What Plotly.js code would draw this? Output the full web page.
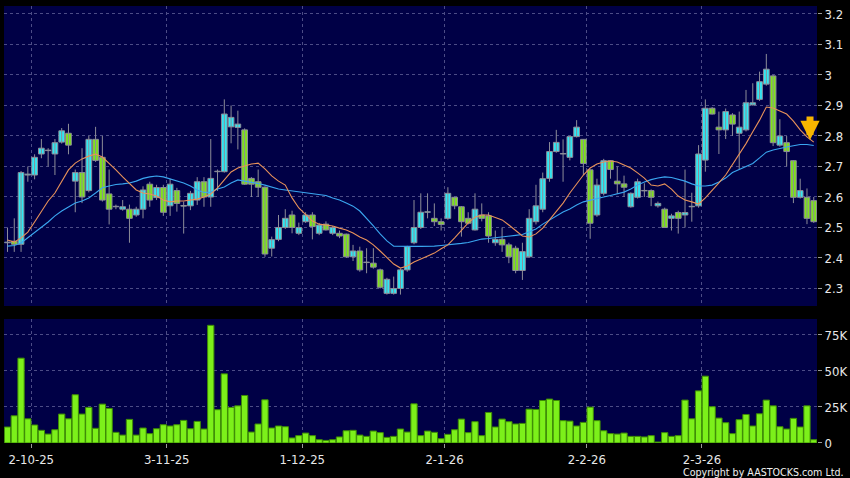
<!DOCTYPE html>
<html>
<head>
<meta charset="utf-8">
<script src="https://cdn.plot.ly/plotly-3.0.1.min.js"></script>
<style>
  html, body { margin: 0; padding: 0; background: #000000; }
  #chart { width: 850px; height: 478px; }
</style>
</head>
<body>
<div id="chart"></div>
<script>
// Trading days shown (one candle per day)
const dates = [
  '2025-09-25','2025-09-26','2025-09-29','2025-09-30',
  '2025-10-02','2025-10-03','2025-10-06','2025-10-08','2025-10-09','2025-10-10','2025-10-13','2025-10-14','2025-10-15','2025-10-16',
  '2025-10-17','2025-10-20','2025-10-21','2025-10-22','2025-10-23','2025-10-24','2025-10-27','2025-10-28','2025-10-30','2025-10-31',
  '2025-11-03','2025-11-04','2025-11-05','2025-11-06','2025-11-07','2025-11-10','2025-11-11','2025-11-12','2025-11-13','2025-11-14',
  '2025-11-17','2025-11-18','2025-11-19','2025-11-20','2025-11-21','2025-11-24','2025-11-25','2025-11-26','2025-11-27','2025-11-28',
  '2025-12-01','2025-12-02','2025-12-03','2025-12-04','2025-12-05','2025-12-08','2025-12-09','2025-12-10','2025-12-11','2025-12-12',
  '2025-12-15','2025-12-16','2025-12-17','2025-12-18','2025-12-19','2025-12-22','2025-12-23','2025-12-24','2025-12-29','2025-12-30','2025-12-31',
  '2026-01-02','2026-01-05','2026-01-06','2026-01-07','2026-01-08','2026-01-09','2026-01-12','2026-01-13','2026-01-14','2026-01-15',
  '2026-01-16','2026-01-19','2026-01-20','2026-01-21','2026-01-22','2026-01-23','2026-01-26','2026-01-27','2026-01-28','2026-01-29','2026-01-30',
  '2026-02-02','2026-02-03','2026-02-04','2026-02-05','2026-02-06','2026-02-09','2026-02-10','2026-02-11','2026-02-12','2026-02-13',
  '2026-02-16','2026-02-20','2026-02-23','2026-02-24','2026-02-25','2026-02-26','2026-02-27',
  '2026-03-02','2026-03-03','2026-03-04','2026-03-05','2026-03-06','2026-03-09','2026-03-10','2026-03-11','2026-03-12','2026-03-13',
  '2026-03-16','2026-03-17','2026-03-18','2026-03-19','2026-03-20','2026-03-23','2026-03-24'
];

const openPx = [2.45,2.455,2.445,2.672,2.672,2.741,2.752,2.741,2.78,2.809,
  2.652,2.68,2.621,2.789,2.73,2.61,2.568,2.56,2.56,2.541,
  2.56,2.642,2.598,2.631,2.571,2.621,2.572,2.571,2.59,2.65,
  2.60,2.683,2.683,2.83,2.828,2.82,2.661,2.65,2.632,2.432,
  2.461,2.50,2.541,2.481,2.519,2.541,2.481,2.511,2.481,2.481,
  2.478,2.404,2.423,2.385,2.383,2.361,2.284,2.284,2.30,2.361,
  2.45,2.50,2.55,2.53,2.519,2.53,2.599,2.568,2.53,2.492,
  2.541,2.538,2.45,2.461,2.443,2.432,2.359,2.404,2.519,2.56,
  2.661,2.749,2.741,2.73,2.798,2.789,2.689,2.541,2.612,2.719,
  2.652,2.643,2.568,2.599,2.62,2.621,2.571,2.56,2.53,2.549,
  2.541,2.568,2.571,2.721,2.891,2.829,2.82,2.869,2.809,2.82,
  2.902,2.92,2.97,2.997,2.77,2.778,2.719,2.599,2.599,2.588];

const highPx = [2.50,2.53,2.685,2.70,2.74,2.79,2.76,2.79,2.826,2.84,
  2.69,2.76,2.80,2.83,2.80,2.69,2.575,2.59,2.575,2.568,
  2.635,2.65,2.64,2.64,2.66,2.63,2.585,2.62,2.665,2.665,
  2.79,2.69,2.92,2.90,2.883,2.825,2.665,2.69,2.635,2.47,
  2.541,2.56,2.555,2.516,2.55,2.55,2.515,2.52,2.505,2.49,
  2.48,2.443,2.437,2.432,2.432,2.365,2.335,2.339,2.365,2.44,
  2.59,2.612,2.612,2.579,2.53,2.632,2.60,2.57,2.55,2.612,
  2.579,2.55,2.49,2.50,2.45,2.44,2.45,2.56,2.64,2.68,
  2.78,2.82,2.789,2.80,2.852,2.79,2.69,2.66,2.725,2.72,
  2.70,2.67,2.615,2.66,2.645,2.625,2.585,2.565,2.545,2.555,
  2.69,2.614,2.77,2.92,2.895,2.88,2.89,2.875,2.88,2.951,
  2.973,3.011,3.069,3.00,2.855,2.80,2.72,2.66,2.628,2.60];

const lowPx = [2.42,2.42,2.42,2.65,2.658,2.727,2.70,2.672,2.775,2.74,
  2.55,2.58,2.615,2.715,2.585,2.51,2.56,2.555,2.45,2.535,
  2.53,2.568,2.59,2.538,2.538,2.552,2.48,2.557,2.574,2.568,
  2.568,2.62,2.68,2.776,2.756,2.64,2.60,2.60,2.404,2.405,
  2.455,2.495,2.481,2.475,2.515,2.461,2.475,2.49,2.475,2.465,
  2.40,2.39,2.355,2.35,2.365,2.30,2.28,2.28,2.28,2.355,
  2.445,2.495,2.53,2.505,2.49,2.525,2.56,2.47,2.51,2.49,
  2.52,2.45,2.44,2.42,2.383,2.35,2.328,2.40,2.51,2.55,
  2.65,2.745,2.65,2.72,2.795,2.672,2.463,2.535,2.605,2.66,
  2.61,2.60,2.565,2.595,2.60,2.57,2.565,2.50,2.49,2.48,
  2.50,2.519,2.565,2.683,2.87,2.741,2.79,2.80,2.69,2.815,
  2.90,2.915,2.965,2.767,2.765,2.70,2.58,2.595,2.511,2.515];

const closePx = [2.452,2.445,2.68,2.675,2.73,2.76,2.752,2.778,2.817,2.77,
  2.68,2.60,2.789,2.72,2.59,2.56,2.568,2.568,2.53,2.56,
  2.623,2.59,2.631,2.55,2.642,2.579,2.570,2.612,2.65,2.60,
  2.661,2.683,2.872,2.861,2.839,2.642,2.642,2.632,2.413,2.46,
  2.50,2.53,2.50,2.50,2.541,2.503,2.508,2.492,2.50,2.472,
  2.404,2.423,2.361,2.385,2.37,2.304,2.33,2.30,2.361,2.437,
  2.50,2.55,2.55,2.519,2.51,2.612,2.571,2.519,2.514,2.56,
  2.53,2.472,2.461,2.443,2.404,2.359,2.421,2.53,2.571,2.66,
  2.749,2.779,2.741,2.798,2.829,2.71,2.514,2.639,2.719,2.69,
  2.643,2.632,2.612,2.65,2.62,2.599,2.579,2.50,2.538,2.53,
  2.549,2.568,2.741,2.891,2.872,2.82,2.88,2.839,2.829,2.909,
  2.909,2.978,3.019,2.778,2.80,2.749,2.599,2.621,2.53,2.519];

// Volume in thousands of shares
const volumeK = [11.1,18.9,58.9,16.8,12.5,8.8,6.2,9.2,20.1,16.8,
  33.5,20.1,24.7,10.2,27,24,7.4,5.5,16.4,5.5,
  10.4,6.5,9.9,12.7,11.8,12.7,15.7,9.9,15,9.7,
  81.7,23.1,48,24.7,25.8,33,7.6,13.2,30,10.4,
  11.8,11.3,3.5,5.1,6.9,5.1,2.3,1.8,2.3,4.2,
  8.5,8.8,5.5,4.6,8.3,7.2,3.9,4.6,9.7,7.6,
  27.2,5.1,8.3,7.4,3,6,9.2,16.6,7.2,14.8,
  5.1,21.2,11.1,16.6,14.8,13.2,13.6,23.5,23.3,29.5,
  30.5,29.5,15.5,15.2,11.8,14.3,24.9,15.5,8.5,6.5,
  6.2,6.9,4.6,4.6,4.2,5.1,0.7,7.2,4.6,5.1,
  29.8,16.8,36.2,46.4,25.2,17.3,14.1,6.5,16.2,19.8,
  11.8,20.3,29.8,25.8,11.3,9.7,17.1,11.1,25.8,2.3];

// Moving averages
const ma10 = [2.459,2.452,2.466,2.485,2.518,2.554,2.587,2.613,2.649,2.689,
  2.711,2.725,2.734,2.741,2.731,2.711,2.689,2.666,2.643,2.623,
  2.613,2.610,2.603,2.590,2.584,2.587,2.587,2.590,2.593,2.600,
  2.610,2.630,2.656,2.682,2.695,2.702,2.708,2.711,2.692,2.669,
  2.652,2.639,2.597,2.564,2.544,2.521,2.511,2.508,2.505,2.498,
  2.492,2.482,2.469,2.459,2.443,2.423,2.403,2.380,2.367,2.374,
  2.387,2.397,2.407,2.416,2.430,2.443,2.466,2.492,2.515,2.534,
  2.541,2.541,2.534,2.525,2.508,2.489,2.472,2.469,2.479,2.498,
  2.525,2.551,2.580,2.613,2.643,2.672,2.695,2.708,2.715,2.718,
  2.715,2.705,2.695,2.679,2.662,2.639,2.636,2.643,2.626,2.603,
  2.590,2.584,2.577,2.597,2.620,2.646,2.672,2.705,2.738,2.775,
  2.814,2.852,2.895,2.892,2.882,2.872,2.849,2.820,2.797,2.780];

const ma20 = [2.439,2.441,2.449,2.466,2.482,2.498,2.518,2.538,2.554,2.567,
  2.580,2.587,2.597,2.613,2.630,2.636,2.641,2.643,2.646,2.652,
  2.661,2.666,2.669,2.666,2.659,2.652,2.646,2.636,2.623,2.615,
  2.616,2.626,2.633,2.646,2.656,2.652,2.649,2.644,2.639,2.633,
  2.626,2.623,2.620,2.618,2.615,2.611,2.608,2.605,2.597,2.590,
  2.580,2.570,2.554,2.531,2.505,2.479,2.456,2.439,2.438,2.438,
  2.438,2.438,2.438,2.439,2.441,2.443,2.444,2.448,2.451,2.457,
  2.462,2.464,2.466,2.468,2.470,2.474,2.477,2.485,2.495,2.511,
  2.525,2.538,2.551,2.561,2.574,2.584,2.590,2.595,2.600,2.605,
  2.610,2.616,2.626,2.639,2.649,2.657,2.662,2.666,2.664,2.659,
  2.652,2.643,2.636,2.636,2.639,2.649,2.662,2.680,2.690,2.700,
  2.710,2.728,2.747,2.754,2.760,2.764,2.768,2.772,2.772,2.769];

// Month tick labels and the first trading day each one marks
const tickDates = ['2025-10-02','2025-11-03','2025-12-01','2026-01-02','2026-02-02','2026-03-02'];
const tickLabels = ['2-10-25','3-11-25','1-12-25','2-1-26','2-2-26','2-3-26'];

const priceTicks = [2.3,2.4,2.5,2.6,2.7,2.8,2.9,3.0,3.1,3.2];
const volTicks = [0,25000,50000,75000];
const volTickLabels = ['0','25K','50K','75K'];

// ---- derived structures for the library ----
const idx = dates.map((d, i) => i);
const tickPos = tickDates.map(d => dates.indexOf(d) - 0.5);
const volume = volumeK.map(v => v * 1000);

const isUp = idx.map(i => closePx[i] >= openPx[i]);
function bodyTrace(up) {
  const xs = [], base = [], h = [];
  idx.forEach(i => {
    if (isUp[i] === up) {
      xs.push(i);
      base.push(Math.min(openPx[i], closePx[i]));
      h.push(Math.max(Math.abs(closePx[i] - openPx[i]), 0.0015));
    }
  });
  return {
    type: 'bar', x: xs, y: h, base: base, width: 0.84,
    xaxis: 'x2', yaxis: 'y2',
    marker: { color: up ? '#2fe8f4' : '#7fe21c', line: { color: '#8d8d98', width: 1 } },
    hoverinfo: 'skip'
  };
}
const wickX = [], wickY = [];
idx.forEach(i => { wickX.push(i, i, null); wickY.push(lowPx[i], highPx[i], null); });

const FONT = '"DejaVu Sans Condensed", "DejaVu Sans", sans-serif';
const GRID = '#4c4c86';
const xRange = [-0.517, idx.length - 0.52];

const traces = [
  {
    type: 'bar', x: idx, y: volume, xaxis: 'x', yaxis: 'y', width: 0.93,
    marker: { color: '#7cf01a', line: { color: '#3e8c05', width: 1 } },
    hoverinfo: 'skip'
  },
  {
    type: 'scatter', mode: 'lines', x: wickX, y: wickY, xaxis: 'x2', yaxis: 'y2',
    line: { color: '#8d8d98', width: 1 }, connectgaps: false, hoverinfo: 'skip'
  },
  bodyTrace(true),
  bodyTrace(false),
  {
    type: 'scatter', mode: 'lines', x: idx, y: ma20, xaxis: 'x2', yaxis: 'y2',
    line: { color: '#3aa6f0', width: 1.1 }, hoverinfo: 'skip'
  },
  {
    type: 'scatter', mode: 'lines', x: idx, y: ma10, xaxis: 'x2', yaxis: 'y2',
    line: { color: '#e8925a', width: 1.1 }, hoverinfo: 'skip'
  }
];

const tickFont = { family: FONT, size: 13, color: '#e8e8e8' };

const layout = {
  width: 850, height: 478,
  paper_bgcolor: '#000000', plot_bgcolor: '#000046',
  margin: { l: 4, r: 33, t: 6, b: 35 },
  showlegend: false,
  barmode: 'overlay',
  xaxis: {
    domain: [0, 1], anchor: 'y', range: xRange,
    tickmode: 'array', tickvals: tickPos, ticktext: tickLabels,
    showgrid: true, gridcolor: GRID, griddash: '3px,3px', gridwidth: 1,
    zeroline: false, showline: false,
    ticks: 'outside', ticklen: 4, tickcolor: '#9a9a9a',
    tickfont: tickFont
  },
  xaxis2: {
    domain: [0, 1], anchor: 'y2', range: xRange, matches: 'x',
    tickmode: 'array', tickvals: tickPos, showticklabels: false, ticks: '',
    showgrid: true, gridcolor: GRID, griddash: '3px,3px', gridwidth: 1,
    zeroline: false, showline: false
  },
  yaxis: {
    domain: [0, 0.2838], anchor: 'x', side: 'right', range: [0, 86100],
    tickmode: 'array', tickvals: volTicks, ticktext: volTickLabels,
    showgrid: true, gridcolor: GRID, griddash: '3px,3px', gridwidth: 1,
    zeroline: false, showline: false,
    ticks: 'outside', ticklen: 4, tickcolor: '#9a9a9a', tickfont: tickFont
  },
  yaxis2: {
    domain: [0.3135, 1], anchor: 'x2', side: 'right', range: [2.2426, 3.2262],
    tickmode: 'array', tickvals: priceTicks, ticktext: priceTicks.map(v => String(+v.toFixed(1))),
    showgrid: true, gridcolor: GRID, griddash: '3px,3px', gridwidth: 1,
    zeroline: false, showline: false,
    ticks: 'outside', ticklen: 4, tickcolor: '#9a9a9a', tickfont: tickFont
  },
  annotations: [
    {
      xref: 'x2', yref: 'y2', x: idx.length - 1.55, y: 2.787,
      showarrow: true, ax: 0, ay: -25, arrowhead: 2, arrowsize: 0.55,
      arrowwidth: 7, arrowcolor: '#f7b500', text: ''
    },
    {
      xref: 'paper', yref: 'paper', x: 1.0357, y: -0.066,
      xanchor: 'right', yanchor: 'middle', showarrow: false,
      text: 'Copyright by AASTOCKS.com Ltd.',
      font: { family: FONT, size: 10.6, color: '#f0f0f0' }
    }
  ]
};

Plotly.newPlot('chart', traces, layout, { staticPlot: true, displayModeBar: false });
</script>
</body>
</html>
